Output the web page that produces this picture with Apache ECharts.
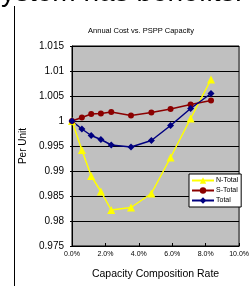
<!DOCTYPE html>
<html>
<head>
<meta charset="utf-8">
<script src="https://cdn.jsdelivr.net/npm/echarts@6/dist/echarts.min.js"></script>
<style>
html, body { margin: 0; padding: 0; background: #fff; }
#chart { width: 252px; height: 286px; }
</style>
</head>
<body>
<div id="chart"></div>
<script>
// capacity composition rate (%)
var rates = [0, 0.59, 1.15, 1.73, 2.35, 3.53, 4.75, 5.9, 7.1, 8.32];
var nTotal = [1.0, 0.9942, 0.9890, 0.9859, 0.9822, 0.9827, 0.9855, 0.9927, 1.0005, 1.0083];
var sTotal = [1.0, 1.0007, 1.0014, 1.0015, 1.0018, 1.0011, 1.0017, 1.0024, 1.0033, 1.0041];
var total = [1.0, 0.9984, 0.9971, 0.9963, 0.9952, 0.9948, 0.9961, 0.9991, 1.0025, 1.0055];
var seriesNames = ['N-Total', 'S-Total', 'Total'];

function pairs(ys) {
	return rates.map(function(x, i) { return [x, ys[i]]; });
}

var font = 'Liberation Sans, Arial, sans-serif';
var chart = echarts.init(document.getElementById('chart'));

chart.setOption({
	animation: false,
	backgroundColor: '#fff',
	title: {
		text: 'Annual Cost vs. PSPP Capacity',
		left: 136, top: 22,
		textAlign: 'center',
		textStyle: { fontSize: 7.5, fontWeight: 'normal', color: '#000', fontFamily: font }
	},
	graphic: [
		{ type: 'text', left: -13, top: -21, style: { text: 'system has benefits.', fontSize: 28, fill: '#000', fontFamily: font } },
		{ type: 'line', shape: { x1: 14.5, y1: 6, x2: 14.5, y2: 286 }, style: { stroke: '#000', lineWidth: 1 } }
	],
	legend: {
		data: seriesNames,
		orient: 'vertical',
		left: 189, top: 174,
		padding: [3, 3, 3, 2],
		itemGap: 3,
		itemWidth: 22, itemHeight: 8,
		backgroundColor: '#fff',
		borderColor: '#000', borderWidth: 1, borderRadius: 0,
		textStyle: { fontSize: 7, color: '#000', fontFamily: font, padding: [0, 0, 0, -3] }
	},
	grid: {
		left: 72, right: 2, top: 46, bottom: 40,
		show: true, backgroundColor: '#c0c0c0', borderColor: '#000', borderWidth: 1
	},
	xAxis: {
		type: 'value', min: 0, max: 10, interval: 2,
		name: 'Capacity Composition Rate', nameLocation: 'middle', nameGap: 23,
		nameTextStyle: { fontSize: 10.5, color: '#000', fontFamily: font },
		axisLine: { lineStyle: { color: '#000' } },
		axisTick: { inside: true, length: 3, lineStyle: { color: '#000' } },
		axisLabel: { fontSize: 7, color: '#000', margin: 5, fontFamily: font, formatter: function(v) { return v.toFixed(1) + '%'; } },
		splitLine: { show: false }
	},
	yAxis: {
		type: 'value', min: 0.975, max: 1.015, interval: 0.005,
		name: 'Per Unit', nameLocation: 'middle', nameGap: 39,
		nameTextStyle: { fontSize: 10, color: '#000', fontFamily: font },
		axisLine: { show: true, lineStyle: { color: '#000' } },
		axisTick: { show: true, length: 2, lineStyle: { color: '#000' } },
		axisLabel: { fontSize: 10, color: '#000', margin: 8, fontFamily: font, formatter: function(v) { return String(parseFloat(v.toFixed(3))); } },
		splitLine: { lineStyle: { color: '#000', width: 1 } }
	},
	series: [
		{ name: 'N-Total', type: 'line', data: pairs(nTotal), symbol: 'triangle', symbolSize: 8,
			itemStyle: { color: '#ffff00' }, lineStyle: { width: 1.5, color: '#ffff00' } },
		{ name: 'S-Total', type: 'line', data: pairs(sTotal), symbol: 'circle', symbolSize: 6,
			itemStyle: { color: '#8b0000' }, lineStyle: { width: 1.5, color: '#8b0000' } },
		{ name: 'Total', type: 'line', data: pairs(total), symbol: 'diamond', symbolSize: 7,
			itemStyle: { color: '#000080' }, lineStyle: { width: 1.5, color: '#000080' } }
	]
});
</script>
</body>
</html>
